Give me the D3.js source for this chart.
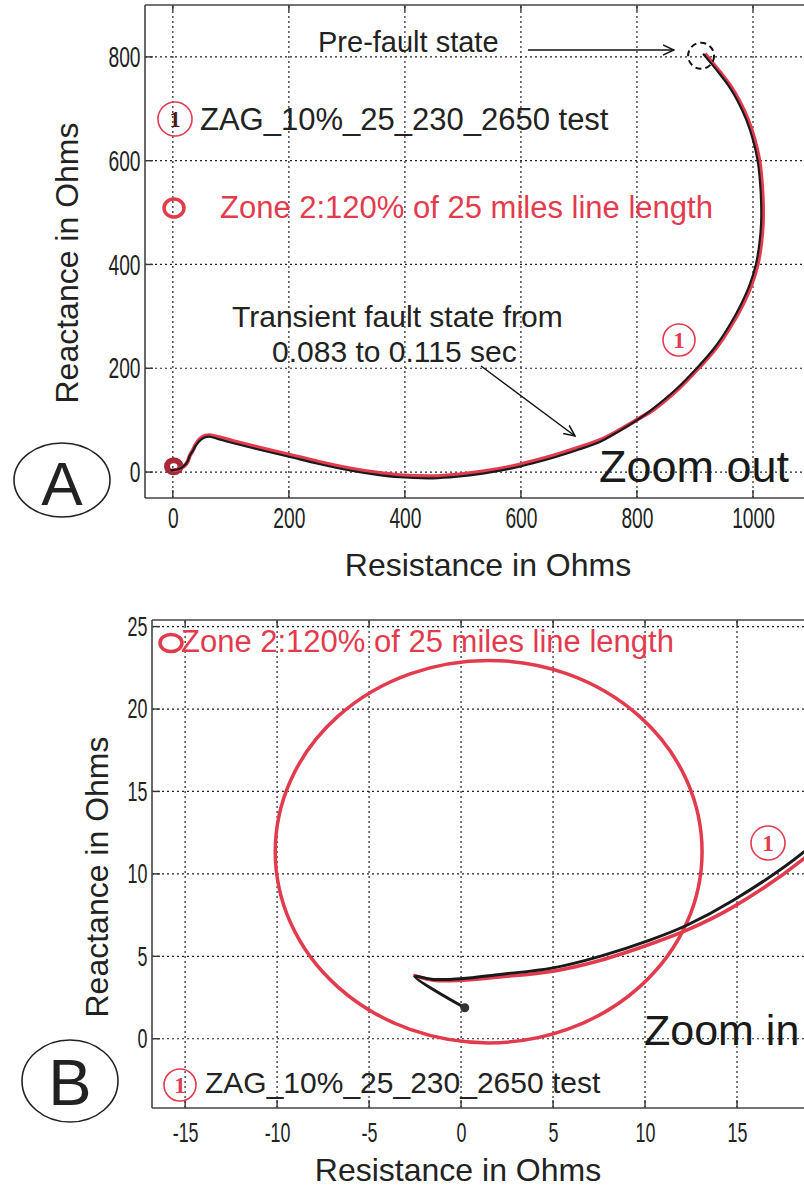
<!DOCTYPE html>
<html>
<head>
<meta charset="utf-8">
<script src="https://cdn.jsdelivr.net/npm/d3@7"></script>
<style>
body { margin: 0; background: #fff; }
svg { display: block; font-family: "Liberation Sans", Arial, Helvetica, sans-serif; }
.grid line { stroke: #222; stroke-width: 1.2; stroke-dasharray: 2,3; }
.box line { stroke: #444; stroke-width: 1.6; }
.tk line { stroke: #333; stroke-width: 1.4; }
</style>
</head>
<body>
<svg id="chart" width="804" height="1187"></svg>
<script>
// tick values
var ticksA_R = [0, 200, 400, 600, 800, 1000];
var ticksA_X = [0, 200, 400, 600, 800];
var ticksB_R = [-15, -10, -5, 0, 5, 10, 15];
var ticksB_X = [0, 5, 10, 15, 20, 25];

// measured impedance trajectory (black), pre-fault -> fault
var testR = [914, 926, 942, 958, 973, 988, 1000, 1008, 1012, 1014, 1014, 1011, 1005, 994, 978, 958, 934, 903, 868, 825, 800, 768, 736, 696, 660, 621, 580, 534, 490, 448, 391, 350, 305, 250, 202, 160, 103, 80, 64, 56, 48, 40, 34, 29, 26, 22.5, 18.6, 14.8, 12.3, 10.3, 7.55, 5.0, 2.1, 0, -1.5, -2.5, 0.2];
var testX = [806, 790, 768, 744, 716, 680, 640, 600, 560, 520, 480, 440, 400, 360, 320, 280, 240, 200, 160, 120, 100, 78, 58, 42, 29, 17, 6, -3, -9, -12, -10, -5, 3, 16, 29, 40, 56, 63, 68, 67, 62, 52, 40, 31, 22, 15.5, 11.3, 8.4, 6.9, 6.0, 5.0, 4.3, 3.9, 3.64, 3.6, 3.76, 1.88];

// relay trajectory (red)
var relayR = [917, 929, 945, 961, 976, 991, 1003, 1011, 1015, 1017, 1017, 1014, 1008, 997, 981, 961, 937, 906, 871, 828, 802, 770, 737, 696, 660, 621, 580, 534, 490, 448, 391, 350, 305, 250, 202, 160, 103, 80, 64, 56, 48, 40, 34, 29, 26, 22.5, 18.6, 14.8, 12.3, 10.3, 7.55, 5.0, 2.1, 0, -1.5, -2.6];
var relayX = [806, 790, 768, 744, 716, 680, 640, 600, 560, 520, 480, 440, 400, 360, 320, 280, 240, 200, 160, 120, 102, 81, 62, 46, 33, 21, 10, 1, -5, -8, -6, -1, 7, 20, 33, 44, 60, 67, 71, 70, 65, 54, 41, 31, 21.5, 15.0, 10.9, 8.0, 6.6, 5.75, 4.75, 4.1, 3.75, 3.55, 3.55, 3.85];

// zone 2 mho circle
var zoneCenterR = 1.5, zoneCenterX = 11.35, zoneRadius = 11.6;

var RED = "#e23b4e";
var svg = d3.select("#chart");
var defs = svg.append("defs");
defs.append("marker").attr("id", "arr")
  .attr("viewBox", "0 -6 12 12").attr("refX", 11).attr("refY", 0)
  .attr("markerWidth", 12).attr("markerHeight", 12).attr("markerUnits", "userSpaceOnUse")
  .attr("orient", "auto")
  .append("path").attr("d", "M0,-5L11,0L0,5").attr("fill", "none").attr("stroke", "#111").attr("stroke-width", 1.5);

function panel(o) {
  var x = d3.scaleLinear().domain(o.xDom).range(o.xRange);
  var y = d3.scaleLinear().domain(o.yDom).range(o.yRange);
  var x0 = o.xRange[0], x1 = o.xRange[1], yb = o.yRange[0], yt = o.yRange[1];
  var g = svg.append("g");

  defs.append("clipPath").attr("id", o.id + "clip").append("rect")
    .attr("x", x0).attr("y", yt).attr("width", x1 - x0).attr("height", yb - yt);

  // dotted grid
  var grid = g.append("g").attr("class", "grid");
  grid.selectAll(".gx").data(o.xTicks).join("line").attr("class", "gx")
    .attr("x1", d => x(d)).attr("x2", d => x(d)).attr("y1", yb).attr("y2", yt);
  grid.selectAll(".gy").data(o.yTicks).join("line").attr("class", "gy")
    .attr("x1", x0).attr("x2", x1).attr("y1", d => y(d)).attr("y2", d => y(d));

  // inward ticks
  var tk = g.append("g").attr("class", "tk");
  tk.selectAll(".tb").data(o.xTicks).join("line").attr("class", "tb")
    .attr("x1", d => x(d)).attr("x2", d => x(d)).attr("y1", yb).attr("y2", yb - 8);
  tk.selectAll(".tt").data(o.xTicks).join("line").attr("class", "tt")
    .attr("x1", d => x(d)).attr("x2", d => x(d)).attr("y1", yt).attr("y2", yt + 6);
  tk.selectAll(".tl").data(o.yTicks).join("line").attr("class", "tl")
    .attr("x1", x0).attr("x2", x0 + 8).attr("y1", d => y(d)).attr("y2", d => y(d));

  // frame
  var box = g.append("g").attr("class", "box");
  box.append("line").attr("x1", x0).attr("x2", x0).attr("y1", yt).attr("y2", yb);
  box.append("line").attr("x1", x0).attr("x2", x1).attr("y1", yt).attr("y2", yt);
  box.append("line").attr("x1", x0).attr("x2", x1).attr("y1", yb).attr("y2", yb);

  // axes labels
  g.append("g").attr("transform", "translate(0," + yb + ")")
    .call(d3.axisBottom(x).tickValues(o.xTicks).tickSize(0).tickPadding(o.xPad).tickFormat(d => String(d)))
    .call(a => a.select(".domain").remove())
    .attr("font-size", null).attr("font-family", null)
    .selectAll("text").attr("font-size", o.tickFont).attr("fill", "#222")
    .attr("transform", "scale(0.64,1)");
  g.append("g").attr("transform", "translate(" + x0 + ",0)")
    .call(d3.axisLeft(y).tickValues(o.yTicks).tickSize(0).tickPadding(7).tickFormat(d => String(d)))
    .call(a => a.select(".domain").remove())
    .attr("font-size", null).attr("font-family", null)
    .selectAll("text").attr("font-size", o.tickFont).attr("fill", "#222")
    .attr("transform", "scale(0.64,1)");

  // axis titles
  g.append("text").attr("x", o.xTitle[0]).attr("y", o.xTitle[1])
    .attr("text-anchor", "middle").attr("font-size", 32).attr("fill", "#222")
    .text("Resistance in Ohms");
  g.append("text").attr("transform", "translate(" + o.yTitle[0] + "," + o.yTitle[1] + ")rotate(-90)")
    .attr("text-anchor", "middle").attr("font-size", 32).attr("fill", "#222")
    .text("Reactance in Ohms");

  var plot = g.append("g").attr("clip-path", "url(#" + o.id + "clip)");

  // zone circle
  plot.append("ellipse")
    .attr("cx", x(zoneCenterR)).attr("cy", y(zoneCenterX))
    .attr("rx", x(zoneRadius) - x(0)).attr("ry", y(0) - y(zoneRadius))
    .attr("fill", "none").attr("stroke", o.zoneColor).attr("stroke-width", o.zoneW);

  var line = d3.line().x(d => x(d[0])).y(d => y(d[1])).curve(d3.curveCatmullRom.alpha(0.5));
  plot.append("path").datum(d3.zip(relayR, relayX)).attr("d", line)
    .attr("fill", "none").attr("stroke", RED).attr("stroke-width", o.redW).attr("stroke-linejoin", "round");
  plot.append("path").datum(d3.zip(testR, testX)).attr("d", line)
    .attr("fill", "none").attr("stroke", "#1a1a1a").attr("stroke-width", o.blackW).attr("stroke-linejoin", "round");

  return { x: x, y: y, g: g, plot: plot };
}

function circledOne(cx, cy, r, digitColor) {
  svg.append("circle").attr("cx", cx).attr("cy", cy).attr("r", r)
    .attr("fill", "none").attr("stroke", RED).attr("stroke-width", 1.6);
  svg.append("text").attr("x", cx).attr("y", cy + 8).attr("text-anchor", "middle")
    .attr("font-family", "'Liberation Serif', 'DejaVu Serif', serif").attr("font-weight", "bold")
    .attr("font-size", 23).attr("fill", digitColor).text("1");
}

function panelTag(cx, cy, rx, ry, letter, base, size) {
  svg.append("ellipse").attr("cx", cx).attr("cy", cy).attr("rx", rx).attr("ry", ry)
    .attr("fill", "none").attr("stroke", "#222").attr("stroke-width", 1.6);
  svg.append("text").attr("x", cx).attr("y", base).attr("text-anchor", "middle")
    .attr("font-size", size).attr("fill", "#222").text(letter);
}

// ---------- panel A (zoom out) ----------
var A = panel({
  id: "a", xDom: [-48, 1100], xRange: [145, 811], yDom: [-50, 900], yRange: [498, 5],
  xTicks: ticksA_R, yTicks: ticksA_X, xPad: 9, tickFont: 30,
  xTitle: [488, 576], yTitle: [78, 263],
  zoneColor: "#a82838", zoneW: 6, redW: 4, blackW: 2.2
});

// pre-fault marker
A.g.append("circle").attr("cx", A.x(testR[0]) - 2).attr("cy", A.y(testX[0]) + 2).attr("r", 13)
  .attr("fill", "none").attr("stroke", "#111").attr("stroke-width", 2).attr("stroke-dasharray", "6,4");
svg.append("text").attr("x", 318).attr("y", 52).attr("font-size", 29).attr("fill", "#222").text("Pre-fault state");
svg.append("line").attr("x1", 528).attr("y1", 50).attr("x2", 674).attr("y2", 50)
  .attr("stroke", "#111").attr("stroke-width", 1.5).attr("marker-end", "url(#arr)");

circledOne(175, 119, 17, "#4a1a1a");
svg.append("text").attr("x", 200).attr("y", 130).attr("font-size", 31).attr("fill", "#222").text("ZAG_10%_25_230_2650 test");

svg.append("ellipse").attr("cx", 174).attr("cy", 208).attr("rx", 10).attr("ry", 9)
  .attr("fill", "none").attr("stroke", RED).attr("stroke-width", 3.5);
svg.append("text").attr("x", 220).attr("y", 218).attr("font-size", 31).attr("fill", RED).text("Zone 2:120% of 25 miles line length");

svg.append("text").attr("x", 232).attr("y", 327).attr("font-size", 30).attr("fill", "#222").text("Transient fault state from");
svg.append("text").attr("x", 272).attr("y", 362).attr("font-size", 30).attr("fill", "#222").text("0.083 to 0.115 sec");
svg.append("line").attr("x1", 481).attr("y1", 366).attr("x2", 575).attr("y2", 436)
  .attr("stroke", "#111").attr("stroke-width", 1.5).attr("marker-end", "url(#arr)");

circledOne(679, 340, 16, RED);
svg.append("text").attr("x", 599).attr("y", 482).attr("font-size", 45).attr("fill", "#1a1a1a").text("Zoom out");
panelTag(62, 480, 48, 37, "A", 505, 62);

// ---------- panel B (zoom in) ----------
var B = panel({
  id: "b", xDom: [-16.8, 20], xRange: [152, 829], yDom: [-4.2, 25.4], yRange: [1108, 620],
  xTicks: ticksB_R, yTicks: ticksB_X, xPad: 14, tickFont: 28,
  xTitle: [458, 1181], yTitle: [108, 877],
  zoneColor: RED, zoneW: 3.5, redW: 3.6, blackW: 3
});
// fault end point
B.plot.append("circle").attr("cx", B.x(testR[testR.length - 1])).attr("cy", B.y(testX[testX.length - 1]))
  .attr("r", 4.5).attr("fill", "#333");

svg.append("ellipse").attr("cx", 171).attr("cy", 643).attr("rx", 11).attr("ry", 8.5)
  .attr("fill", "none").attr("stroke", RED).attr("stroke-width", 3.5);
svg.append("text").attr("x", 181).attr("y", 652).attr("font-size", 31).attr("fill", RED).text("Zone 2:120% of 25 miles line length");

circledOne(768, 843, 17, RED);
circledOne(180, 1085, 16, RED);
svg.append("text").attr("x", 205).attr("y", 1093).attr("font-size", 30).attr("fill", "#222").text("ZAG_10%_25_230_2650 test");
svg.append("text").attr("x", 644).attr("y", 1045).attr("font-size", 43).attr("fill", "#1a1a1a").text("Zoom in");
panelTag(70, 1081, 48, 41, "B", 1105, 65);
</script>
</body>
</html>
